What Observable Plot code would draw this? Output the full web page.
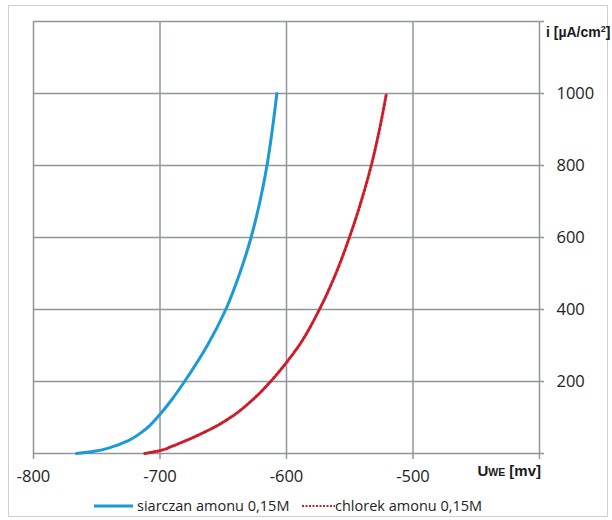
<!DOCTYPE html>
<html>
<head>
<meta charset="utf-8">
<script src="https://cdn.jsdelivr.net/npm/d3@7"></script>
<script src="https://cdn.jsdelivr.net/npm/@observablehq/plot@0.6"></script>
<style>
  html, body { margin: 0; padding: 0; background: #fff; }
  #wrap { position: relative; width: 612px; height: 520px; overflow: hidden; background: #fff; }
  #border { position: absolute; left: 8px; top: 5px; width: 600px; height: 512px; box-sizing: border-box; border: 1px solid #cfcfcf; }
  #chart { position: absolute; left: 0; top: 0; }
  .leg { position: absolute; font-family: "Open Sans", sans-serif; font-size: 14.5px; line-height: 20px; color: #222; white-space: nowrap; }
  .sw { position: absolute; }
</style>
</head>
<body>
<div id="wrap">
  <div id="border"></div>
  <div id="chart"></div>
</div>
<script>
// ---- data ----
const seriesNames = ["siarczan amonu 0,15M", "chlorek amonu 0,15M"];
const siarczanU = [-766, -752, -739, -725, -713, -700, -690.6, -680.6, -662.6, -648, -637, -628, -621, -615.4, -611.2, -607.6];
const siarczanI = [0, 6, 17, 36, 63, 109, 150, 200, 300, 400, 500, 600, 700, 800, 900, 1000];
const chlorekU = [-712, -700, -690.5, -680, -668, -655.5, -644.3, -626.5, -612.6, -600, -590.1, -574, -561, -550.3, -541, -533, -526.5, -521];
const chlorekI = [0, 8, 20, 35, 54, 76, 100, 150, 200, 253, 300, 400, 500, 600, 700, 800, 900, 1000];
const xTicks = [-800, -700, -600, -500, -400];
const xLabels = ["-800", "-700", "-600", "-500", ""];
const yTicks = [0, 200, 400, 600, 800, 1000, 1200];
const yLabels = ["", "200", "400", "600", "800", "1000", ""];
const xTitle = ["U", "WE", " [mv]"];
const yTitle = ["i [µA/cm", "2", "]"];

const siarczan = siarczanU.map((u, k) => ({u, i: siarczanI[k]}));
const chlorek = chlorekU.map((u, k) => ({u, i: chlorekI[k]}));

const gridColor = "#8f969b";
const colors = ["#1b9ad8", "#cc1d2a"];

const plot = Plot.plot({
  width: 612,
  height: 488,
  marginLeft: 33,
  marginRight: 73,
  marginTop: 21,
  marginBottom: 35,
  x: {domain: [-800, -400]},
  y: {domain: [0, 1200]},
  style: {fontFamily: "'Open Sans', sans-serif", fontSize: "16.5px", color: "#222", background: "transparent", overflow: "visible"},
  marks: [
    Plot.ruleX(xTicks, {stroke: gridColor, strokeWidth: 1.5, strokeOpacity: 1}),
    Plot.ruleY(yTicks, {stroke: gridColor, strokeWidth: 1.5, strokeOpacity: 1}),
    Plot.axisX({ticks: xTicks, tickSize: 6, tickPadding: 11, stroke: gridColor, strokeWidth: 1.5, strokeOpacity: 1,
      tickFormat: d => xLabels[xTicks.indexOf(d)], label: null, fill: "#222"}),
    Plot.axisY({anchor: "right", ticks: yTicks, tickSize: 4, tickPadding: 13, stroke: gridColor, strokeWidth: 1.5, strokeOpacity: 1,
      tickFormat: d => yLabels[yTicks.indexOf(d)], label: null, textAnchor: "start", fill: "#222"}),
    Plot.line(siarczan, {x: "u", y: "i", stroke: colors[0], strokeWidth: 3, curve: "monotone-y"}),
    Plot.line(chlorek, {x: "u", y: "i", stroke: colors[1], strokeWidth: 3, strokeDasharray: "2.2,2", curve: "monotone-y"})
  ]
});
document.getElementById("chart").appendChild(plot);

// axis titles
const svg = d3.select(plot);
const yt = svg.append("text")
  .attr("x", 546).attr("y", 37).attr("text-anchor", "start")
  .attr("font-family", "'Liberation Sans', Arial, sans-serif")
  .attr("font-weight", "bold").attr("font-size", 14).attr("fill", "#1a1a1a");
yt.append("tspan").text(yTitle[0]);
yt.append("tspan").attr("font-size", 9).attr("dy", -5).text(yTitle[1]);
yt.append("tspan").attr("dy", 5).text(yTitle[2]);

const xt = svg.append("text")
  .attr("x", 541).attr("y", 476).attr("text-anchor", "end")
  .attr("font-family", "'Liberation Sans', Arial, sans-serif")
  .attr("font-weight", "bold").attr("font-size", 15).attr("fill", "#1a1a1a");
xt.append("tspan").text(xTitle[0]);
xt.append("tspan").attr("font-size", 10.5).text(xTitle[1]);
xt.append("tspan").text(xTitle[2]);

// legend
const wrap = d3.select("#wrap");
const legPos = [{sw: 94, swW: 39, tx: 137}, {sw: 302, swW: 33, tx: 335}];
seriesNames.forEach((name, k) => {
  const p = legPos[k];
  const s = wrap.append("svg").attr("class", "sw")
    .style("left", p.sw + "px").style("top", "503px")
    .attr("width", p.swW).attr("height", 6);
  s.append("line").attr("x1", 0).attr("x2", p.swW).attr("y1", 3).attr("y2", 3)
    .attr("stroke", colors[k]).attr("stroke-width", k === 0 ? 3 : 2.2)
    .attr("stroke-dasharray", k === 0 ? null : "2,1.5");
  wrap.append("div").attr("class", "leg")
    .style("left", p.tx + "px").style("top", "496px").text(name);
});
</script>
</body>
</html>
